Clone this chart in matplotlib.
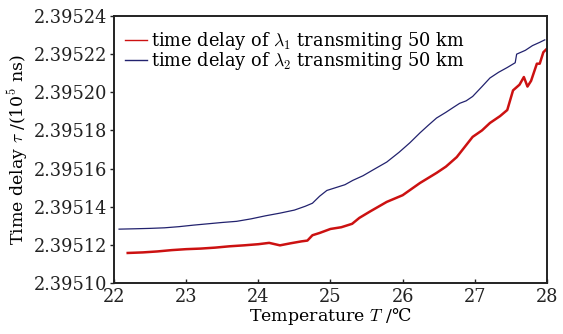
import numpy as np
import matplotlib
matplotlib.use('Agg')
import matplotlib.pyplot as plt
from matplotlib.ticker import FormatStrFormatter

plt.rcParams['font.family'] = ['DejaVu Serif']
plt.rcParams['mathtext.fontset'] = 'cm'

# readings: temperature (C) and delay offset in units of 1e-5 (x 1e5 ns) above 2.39510
base = 2.39510
t_l2 = [22.07, 22.3, 22.5, 22.7, 22.9, 23.1, 23.3, 23.5, 23.7, 23.9, 24.1, 24.3,
        24.5, 24.65, 24.75, 24.85, 24.95, 25.05, 25.2, 25.31, 25.45, 25.6, 25.78,
        25.95, 26.1, 26.24, 26.35, 26.47, 26.6, 26.7, 26.79, 26.88, 26.97, 27.1,
        27.21, 27.33, 27.45, 27.56, 27.58, 27.7, 27.8, 27.9, 27.97]
d_l2 = [2.82, 2.84, 2.86, 2.89, 2.95, 3.03, 3.10, 3.17, 3.23, 3.36, 3.52, 3.66,
        3.82, 4.02, 4.18, 4.55, 4.85, 4.97, 5.15, 5.38, 5.62, 5.95, 6.34,
        6.85, 7.35, 7.87, 8.25, 8.65, 8.95, 9.2, 9.42, 9.55, 9.78, 10.3,
        10.75, 11.05, 11.3, 11.55, 12.0, 12.2, 12.45, 12.62, 12.75]

t_l1 = [22.19, 22.4, 22.6, 22.8, 23.0, 23.2, 23.4, 23.6, 23.8, 24.0, 24.15, 24.3,
        24.45, 24.6, 24.68, 24.75, 24.85, 25.0, 25.15, 25.3, 25.4, 25.55, 25.78,
        26.0, 26.24, 26.47, 26.6, 26.75, 26.97, 27.1, 27.21, 27.35, 27.45, 27.53,
        27.62, 27.68, 27.73, 27.78, 27.86, 27.9, 27.95, 27.99]
d_l1 = [1.57, 1.60, 1.65, 1.72, 1.77, 1.80, 1.85, 1.92, 1.97, 2.03, 2.10, 1.97,
        2.08, 2.18, 2.22, 2.50, 2.62, 2.83, 2.92, 3.10, 3.41, 3.75, 4.25,
        4.60, 5.24, 5.77, 6.10, 6.60, 7.66, 8.00, 8.39, 8.75, 9.07, 10.10,
        10.40, 10.80, 10.30, 10.60, 11.50, 11.50, 12.10, 12.25]

y_l1 = base + np.array(d_l1) * 1e-5
y_l2 = base + np.array(d_l2) * 1e-5

fig = plt.figure(figsize=(5.63, 3.34), dpi=100)
ax = fig.add_axes([0.2025, 0.153, 0.769, 0.799])

ax.plot(t_l1, y_l1, color='#cc1111', lw=1.8, label=r'time delay of $\lambda_1$ transmiting 50 km')
ax.plot(t_l2, y_l2, color='#22226e', lw=0.9, label=r'time delay of $\lambda_2$ transmiting 50 km')

ax.set_xlim(22, 28)
ax.set_ylim(2.39510, 2.39524)
ax.set_xticks(np.arange(22, 29, 1))
ax.set_yticks(base + np.arange(0, 15, 2) * 1e-5)
ax.yaxis.set_major_formatter(FormatStrFormatter('%.5f'))
ax.tick_params(axis='both', labelsize=12.8, colors='#222222', length=3, width=1)
ax.tick_params(axis='x', direction='in', pad=4)
ax.tick_params(axis='y', direction='out', pad=2)
for s in ax.spines.values():
    s.set_linewidth(1.4)
    s.set_color('#222222')

ax.set_xlabel(r'Temperature $T$ /℃', fontsize=12.5, labelpad=0)
ax.set_ylabel(r'Time delay $\tau$ /(10$^5$ ns)', fontsize=12.5, labelpad=3)

leg = ax.legend(loc='upper left', frameon=False, fontsize=12.8, handlelength=1.2,
                handletextpad=0.25, labelspacing=-0.08, borderaxespad=0.0,
                bbox_to_anchor=(0.01, 0.975))
for ln in leg.get_lines():
    ln.set_linewidth(1.0)

fig.savefig('out.png', dpi=100)
